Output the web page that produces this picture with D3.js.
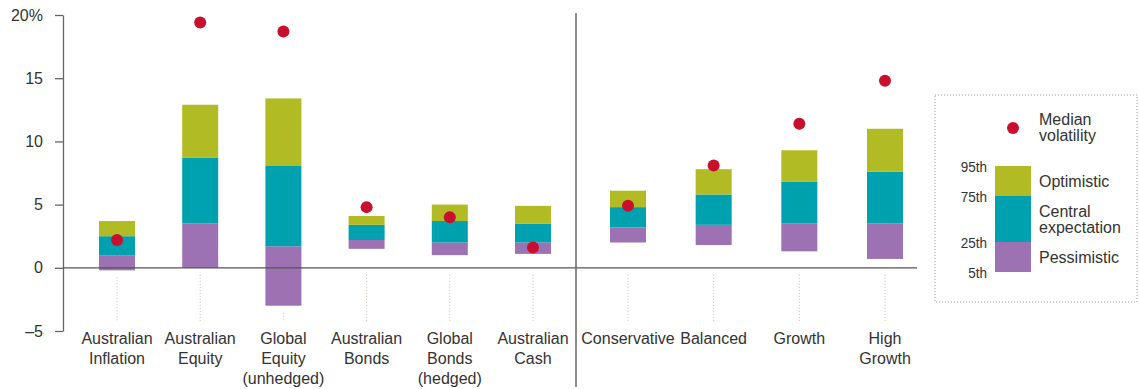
<!DOCTYPE html>
<html>
<head>
<meta charset="utf-8">
<script src="https://cdn.jsdelivr.net/npm/d3@7"></script>
<style>
  body { margin: 0; background: #fff; }
  text { font-family: "Liberation Sans", Arial, sans-serif; fill: #333; }
</style>
</head>
<body>
<div id="chart"></div>
<script>
// asset classes (left group) and portfolios (right group)
const assetNames = ["Australian\nInflation", "Australian\nEquity", "Global\nEquity\n(unhedged)", "Australian\nBonds", "Global\nBonds\n(hedged)", "Australian\nCash"];
const portfolioNames = ["Conservative", "Balanced", "Growth", "High\nGrowth"];

// percentiles, asset classes then portfolios
const p5  = [-0.2, 0.0, -3.0, 1.5, 1.0, 1.1,   2.0, 1.8, 1.3, 0.7];
const p25 = [1.0, 3.5, 1.7, 2.2, 2.0, 2.0,     3.2, 3.4, 3.5, 3.5];
const p75 = [2.5, 8.7, 8.1, 3.4, 3.7, 3.5,     4.8, 5.8, 6.8, 7.6];
const p95 = [3.7, 12.9, 13.4, 4.1, 5.0, 4.9,   6.1, 7.8, 9.3, 11.0];
const medianVol = [2.2, 19.4, 18.7, 4.8, 4.0, 1.6,   4.9, 8.1, 11.4, 14.8];

const yTicks = [-5, 0, 5, 10, 15, 20];
const bandNames = ["Optimistic", "Central\nexpectation", "Pessimistic"];
const pctLabels = ["95th", "75th", "25th", "5th"];

const colors = {opt: "#b1bb23", central: "#00a1ae", pess: "#9d72b3", dot: "#c8102e"};

const W = 1139, H = 389;
const svg = d3.select("#chart").append("svg").attr("width", W).attr("height", H);

const y = d3.scaleLinear().domain([-5, 20]).range([331, 15]);
const xLeft = d3.scalePoint().domain(assetNames).range([117, 533]);
const xRight = d3.scalePoint().domain(portfolioNames).range([628, 885]);
const allNames = assetNames.concat(portfolioNames);
const xPos = n => assetNames.includes(n) ? xLeft(n) : xRight(n);
const barW = 36;

const rows = allNames.map((n, i) => ({name: n, p5: p5[i], p25: p25[i], p75: p75[i], p95: p95[i], med: medianVol[i]}));

// y axis
const yAxis = d3.axisLeft(y).tickValues(yTicks).tickSize(8).tickSizeOuter(0).tickPadding(12)
  .tickFormat(d => d === 20 ? "20%" : d < 0 ? "\u2013" + Math.abs(d) : d);
const ga = svg.append("g").attr("transform", "translate(63,0)").call(yAxis);
ga.select(".domain").attr("stroke", "#666").attr("stroke-width", 1.3);
ga.selectAll(".tick line").attr("stroke", "#666").attr("stroke-width", 1.3);
ga.selectAll(".tick text").attr("font-size", 16).attr("fill", "#333");

// dotted guides under each bar
svg.selectAll(".guide").data(rows).enter().append("line")
  .attr("x1", d => xPos(d.name)).attr("x2", d => xPos(d.name))
  .attr("y1", d => y(Math.min(d.p5, 0)) + 7).attr("y2", 322)
  .attr("stroke", "#c6bcb0").attr("stroke-width", 1).attr("stroke-dasharray", "1,2");

// stacked segments
const segs = [["p5", "p25", colors.pess], ["p25", "p75", colors.central], ["p75", "p95", colors.opt]];
segs.forEach(([lo, hi, c]) => {
  svg.selectAll(".seg-" + lo).data(rows).enter().append("rect")
    .attr("x", d => xPos(d.name) - barW / 2).attr("width", barW)
    .attr("y", d => y(d[hi])).attr("height", d => y(d[lo]) - y(d[hi]))
    .attr("fill", c);
});

// zero line and divider
svg.append("line").attr("x1", 63).attr("x2", 917).attr("y1", y(0)).attr("y2", y(0))
  .attr("stroke", "#555").attr("stroke-width", 1.3);
svg.append("line").attr("x1", 576).attr("x2", 576).attr("y1", 13).attr("y2", 387)
  .attr("stroke", "#666").attr("stroke-width", 1.5);

// median volatility dots
svg.selectAll(".dot").data(rows).enter().append("circle")
  .attr("cx", d => xPos(d.name)).attr("cy", d => y(d.med)).attr("r", 6)
  .attr("fill", colors.dot);

// category labels
svg.selectAll(".cat").data(rows).enter().append("text")
  .attr("text-anchor", "middle").attr("font-size", 16)
  .each(function(d) {
    d.name.split("\n").forEach((t, i) => {
      d3.select(this).append("tspan").attr("x", xPos(d.name)).attr("y", 344 + i * 20).text(t);
    });
  });

// legend
const lg = svg.append("g");
lg.append("rect").attr("x", 935).attr("y", 95).attr("width", 202).attr("height", 207)
  .attr("fill", "none").attr("stroke", "#999").attr("stroke-dasharray", "1,2");
lg.append("circle").attr("cx", 1013).attr("cy", 128).attr("r", 6).attr("fill", colors.dot);
lg.append("text").attr("font-size", 16)
  .selectAll("tspan").data(["Median", "volatility"]).enter().append("tspan")
  .attr("x", 1039).attr("y", (d, i) => 125 + i * 16).text(d => d);

const ly = d3.scaleOrdinal().domain(pctLabels).range([166, 196, 242, 272]);
const legSegs = [[pctLabels[0], pctLabels[1], colors.opt, bandNames[0]],
                 [pctLabels[1], pctLabels[2], colors.central, bandNames[1]],
                 [pctLabels[2], pctLabels[3], colors.pess, bandNames[2]]];
legSegs.forEach(([a, b, c, name]) => {
  lg.append("rect").attr("x", 995).attr("width", barW).attr("y", ly(a)).attr("height", ly(b) - ly(a)).attr("fill", c);
  const lines = name.split("\n");
  const mid = (ly(a) + ly(b)) / 2;
  const t = lg.append("text").attr("font-size", 16);
  lines.forEach((s, i) => {
    t.append("tspan").attr("x", 1039).attr("y", mid + 6 + (i - (lines.length - 1) / 2) * 16).text(s);
  });
});
lg.selectAll(".pct").data(pctLabels).enter().append("text")
  .attr("x", 987).attr("y", d => ly(d) + 6).attr("text-anchor", "end")
  .attr("font-size", 15).attr("transform", d => `translate(${987 * 0.1},0) scale(0.9,1)`).text(d => d);
</script>
</body>
</html>
